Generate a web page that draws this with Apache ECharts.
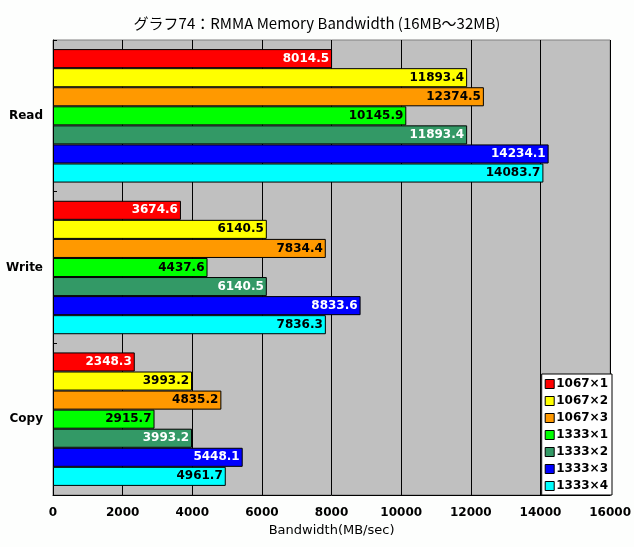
<!DOCTYPE html>
<html><head><meta charset="utf-8">
<script src="https://cdn.jsdelivr.net/npm/echarts@6/dist/echarts.min.js"></script>
<style>html,body{margin:0;padding:0;background:#fdfefd}#c{width:634px;height:547px}</style>
</head><body><div id="c"></div>
<script>
var categories = ['Read', 'Write', 'Copy'];
var seriesNames = ['1067×1', '1067×2', '1067×3', '1333×1', '1333×2', '1333×3', '1333×4'];
var s1067x1 = [8014.5, 3674.6, 2348.3];
var s1067x2 = [11893.4, 6140.5, 3993.2];
var s1067x3 = [12374.5, 7834.4, 4835.2];
var s1333x1 = [10145.9, 4437.6, 2915.7];
var s1333x2 = [11893.4, 6140.5, 3993.2];
var s1333x3 = [14234.1, 8833.6, 5448.1];
var s1333x4 = [14083.7, 7836.3, 4961.7];
var xTicks = [0, 2000, 4000, 6000, 8000, 10000, 12000, 14000, 16000];
var colors = ['#ff0000', '#ffff00', '#ff9900', '#00ff00', '#339966', '#0000ff', '#00ffff'];
var labelColors = ['#fff', '#000', '#000', '#000', '#fff', '#fff', '#000'];
var allData = [s1067x1, s1067x2, s1067x3, s1333x1, s1333x2, s1333x3, s1333x4];
var font = '"DejaVu Sans", sans-serif';
var chart = echarts.init(document.getElementById('c'));
chart.setOption({
  animation: false,
  backgroundColor: '#fdfefd',
  title: {text: 'グラフ74：RMMA Memory Bandwidth (16MB～32MB)', left: 'center', top: 11,
    textStyle: {fontSize: 15, fontWeight: 'normal', color: '#000', fontFamily: '"Noto Sans CJK JP", sans-serif'}},
  grid: {left: 53, right: 21, top: 40, bottom: 52, show: true, backgroundColor: '#c0c0c0', borderColor: '#808080', borderWidth: 1},
  legend: {orient: 'vertical', right: 22, bottom: 52, backgroundColor: '#fff', borderColor: '#000', borderWidth: 1,
    padding: [4, 4, 3, 3], itemGap: 5, itemWidth: 9, itemHeight: 9, icon: 'rect',
    itemStyle: {borderColor: '#000', borderWidth: 1},
    textStyle: {fontSize: 12, fontWeight: 'bold', color: '#000', fontFamily: font, padding: [0, 0, 0, -3]},
    data: seriesNames},
  xAxis: {type: 'value', min: 0, max: 16000, interval: 2000,
    name: 'Bandwidth(MB/sec)', nameLocation: 'middle', nameGap: 27,
    nameTextStyle: {fontSize: 13, color: '#000', fontFamily: font},
    axisLine: {show: true, lineStyle: {color: '#000'}}, axisTick: {show: false},
    axisLabel: {fontSize: 12, fontWeight: 'bold', color: '#000', fontFamily: font, margin: 12,
      formatter: function (v) { return xTicks.indexOf(v) >= 0 ? String(v) : ''; }},
    splitLine: {show: true, lineStyle: {color: '#000', width: 1}}},
  yAxis: {type: 'category', data: categories, inverse: true,
    axisLine: {show: true, lineStyle: {color: '#000'}},
    axisTick: {show: true, inside: true, length: 4, lineStyle: {color: '#000'}},
    axisLabel: {fontSize: 12, fontWeight: 'bold', color: '#000', fontFamily: font, margin: 10}},
  series: seriesNames.map(function (n, i) {
    return {name: n, type: 'bar', data: allData[i], barGap: 0, barCategoryGap: '12%',
      itemStyle: {color: colors[i], borderColor: '#000', borderWidth: 1},
      label: {show: true, position: 'insideRight', distance: 3, color: labelColors[i], fontSize: 12,
        fontWeight: 'bold', fontFamily: font, formatter: function (p) { return p.value.toFixed(1); }}};
  })
});
</script></body></html>
